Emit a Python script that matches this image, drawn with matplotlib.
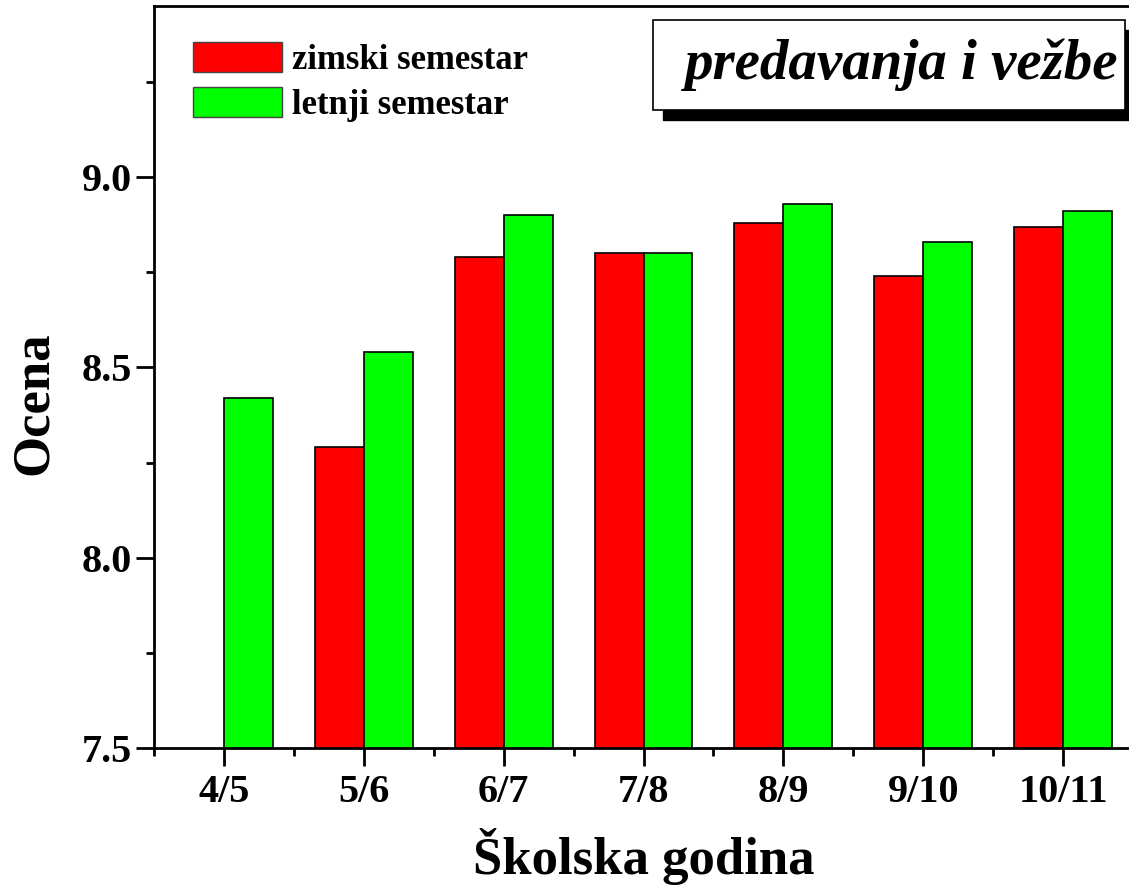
import numpy as np
import matplotlib
matplotlib.use("Agg")
import matplotlib.pyplot as plt
from matplotlib.patches import Rectangle, Patch
from matplotlib.ticker import MultipleLocator

# school years and average grades per semester
godine = ["4/5", "5/6", "6/7", "7/8", "8/9", "9/10", "10/11"]
zimski = [np.nan, 8.29, 8.79, 8.80, 8.88, 8.74, 8.87]
letnji = [8.42, 8.54, 8.90, 8.80, 8.93, 8.83, 8.91]

plt.rcParams['font.family'] = ['Liberation Serif', 'DejaVu Serif']
plt.rcParams['font.weight'] = 'bold'

W, H = 1129, 886
fig = plt.figure(figsize=(W / 100, H / 100), dpi=100)
# axes runs a little past the right edge, like the original crop
ax = fig.add_axes([154 / W, 1 - 748 / H, (1133 - 154) / W, (748 - 6) / H])

x = np.arange(1, len(godine) + 1)
w = 0.35
ax.bar(x - w, zimski, w, align='edge', color='#ff0000', edgecolor='black', lw=1.2, bottom=0)
ax.bar(x, letnji, w, align='edge', color='#00ff00', edgecolor='black', lw=1.2, bottom=0)

ax.set_xlim(0.5, 7.5)
ax.set_ylim(7.5, 9.45)
ax.set_xticks(x)
ax.set_xticklabels(godine)
ax.xaxis.set_minor_locator(MultipleLocator(0.5))
ax.set_yticks([7.5, 8.0, 8.5, 9.0])
ax.yaxis.set_minor_locator(MultipleLocator(0.25))
ax.tick_params(which='major', direction='out', length=13, width=2, labelsize=29)
ax.tick_params(axis='x', which='major', pad=6)
ax.tick_params(axis='y', which='major', pad=3)
ax.tick_params(which='minor', direction='out', length=6, width=2)
ax.tick_params(top=False, right=False, which='both')
for s in ax.spines.values():
    s.set_linewidth(2)

ax.set_xlabel("Školska godina", fontsize=38, fontweight='bold', labelpad=12)
ax.set_ylabel("Ocena", fontsize=38, fontweight='bold')
ax.yaxis.set_label_coords(-0.098, 0.464)

handles = [Patch(facecolor='#ff0000', edgecolor='#444444', label='zimski semestar'),
           Patch(facecolor='#00ff00', edgecolor='#444444', label='letnji semestar')]
ax.legend(handles=handles, loc='upper left', bbox_to_anchor=(39 / 979, 1 - 36 / 742),
          frameon=False, fontsize=25, handlelength=2.56, handleheight=0.95,
          handletextpad=0.3, labelspacing=0.3, borderaxespad=0, borderpad=0)

# title box with shadow
bx0, by0, bx1, by1 = 653, 20, 1125, 110
fig.patches.append(Rectangle((bx0 / W + 10 / W, 1 - by1 / H - 10 / H),
                             (bx1 - bx0) / W, (by1 - by0) / H, transform=fig.transFigure,
                             facecolor='black', edgecolor='black', zorder=5))
fig.patches.append(Rectangle((bx0 / W, 1 - by1 / H), (bx1 - bx0) / W, (by1 - by0) / H,
                             transform=fig.transFigure, facecolor='white',
                             edgecolor='black', lw=1.2, zorder=6))
fig.text(901 / W, 1 - (by0 + by1) / 2 / H, "predavanja i vežbe",
         fontsize=41, fontstyle='italic', fontweight='bold', ha='center', va='center', zorder=7)

fig.savefig("out.png", dpi=100)
